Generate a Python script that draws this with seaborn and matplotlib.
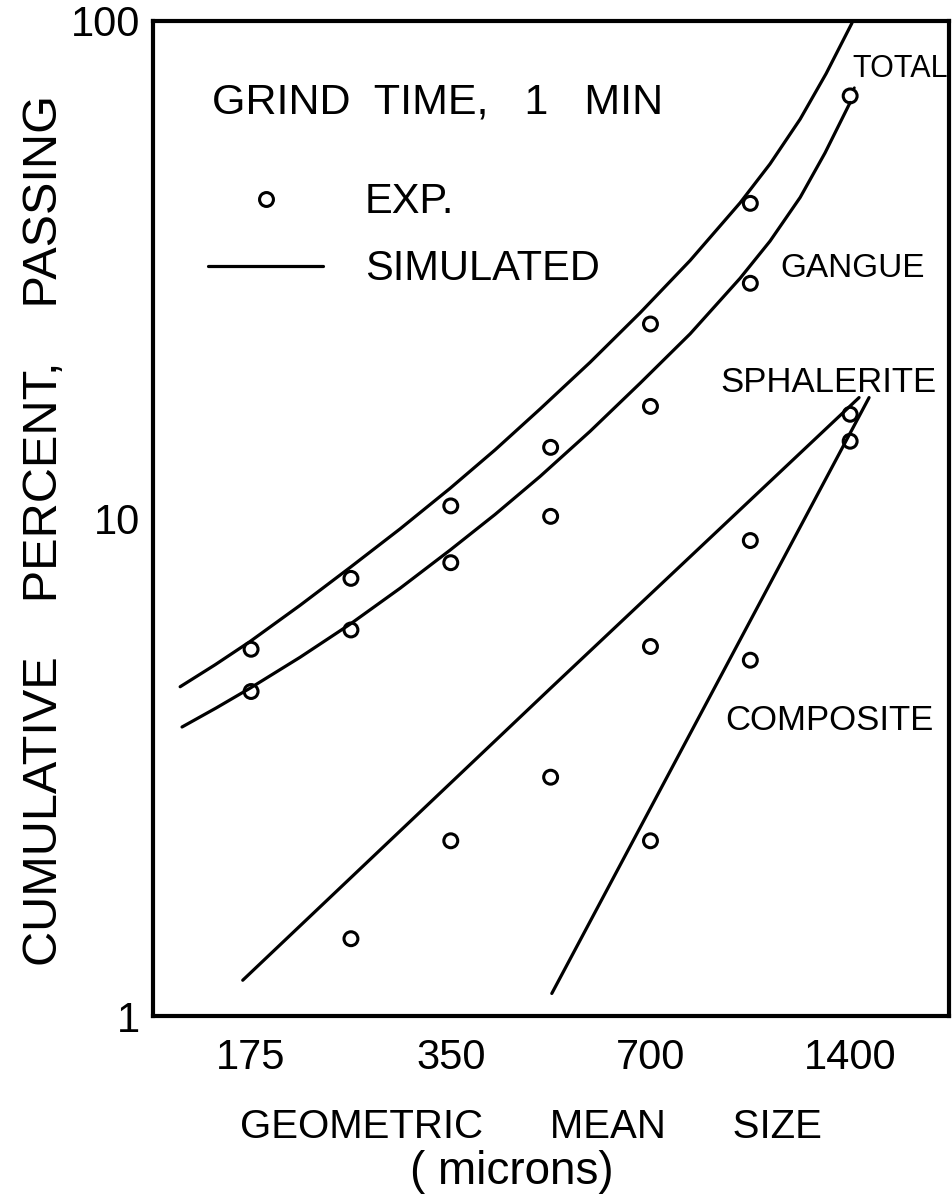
import matplotlib
matplotlib.use("Agg")
import matplotlib.pyplot as plt
from matplotlib.lines import Line2D
from matplotlib.ticker import NullLocator
import seaborn as sns

# Geometric mean sizes of the sieve fractions (microns)
sizes = [175, 247.5, 350, 495, 700, 990, 1400]

# Experimental cumulative percent passing
total_exp = [5.46, 7.58, 10.6, 13.9, 24.6, 43.0, 70.7]
gangue_exp = [4.49, 5.97, 8.15, 10.1, 16.8, 29.7]          # sizes[0:6]
sphalerite_exp = [1.43, 2.25, 3.02, 5.53, 9.03, 16.2]      # sizes[1:7]
composite_exp = [2.25, 5.19, 14.3]                          # sizes[4:7]

# Simulated size distributions
total_sim_size = [136.8, 154.4, 174.4, 207.4, 246.7, 293.5, 349.2, 408.2, 477.2,
                  567.6, 675.2, 803.2, 955.4, 1060, 1177, 1288, 1409]
total_sim = [4.59, 5.08, 5.66, 6.69, 7.97, 9.53, 11.5, 13.74, 16.6,
             20.6, 25.9, 33.0, 43.1, 51.6, 63.5, 78.4, 99.1]
gangue_sim_size = [137.7, 155.0, 174.4, 207.4, 246.7, 293.5, 349.2, 408.2, 477.2,
                   567.6, 675.2, 803.2, 955.4, 1060, 1177, 1283, 1400]
gangue_sim = [3.81, 4.16, 4.56, 5.26, 6.13, 7.24, 8.64, 10.19, 12.15,
              14.97, 18.7, 23.5, 30.4, 36.1, 44.2, 54.3, 68.6]
sphalerite_sim_size = [170, 495, 1444]
sphalerite_sim = [1.18, 4.56, 17.5]
composite_sim_size = [497, 1495]
composite_sim = [1.11, 17.5]

x_ticks = [175, 350, 700, 1400]
x_tick_labels = ["175", "350", "700", "1400"]
y_ticks = [1, 5, 10, 50, 100]
y_tick_labels = ["1", "", "10", "", "100"]

sns.set_theme(style="white")
plt.rcParams["font.family"] = ["Liberation Sans", "DejaVu Sans"]
plt.rcParams["text.color"] = "black"

W, H = 952, 1194
fig = plt.figure(figsize=(W / 100, H / 100), dpi=100)
fig.patch.set_facecolor("white")
ax = fig.add_axes([153 / W, 1 - 1016 / H, 796 / W, 995 / H])
ax.set_facecolor("white")

LW = 2.3
for xs, ys in [(total_sim_size, total_sim), (gangue_sim_size, gangue_sim),
               (sphalerite_sim_size, sphalerite_sim), (composite_sim_size, composite_sim)]:
    sns.lineplot(x=xs, y=ys, ax=ax, color="black", lw=LW, sort=False,
                 estimator=None, solid_capstyle="round", solid_joinstyle="round")

for xs, ys in [(sizes, total_exp), (sizes[:6], gangue_exp),
               (sizes[1:], sphalerite_exp), (sizes[4:], composite_exp)]:
    sns.scatterplot(x=xs, y=ys, ax=ax, marker="o", s=100, facecolors="none",
                    edgecolor="black", linewidth=2.2, zorder=3)

ax.set_xscale("log", base=2)
ax.set_yscale("log")
ax.set_xlim(124.5, 1973)
ax.set_ylim(1, 100)

ax.set_xticks(x_ticks)
ax.set_xticklabels(x_tick_labels)
ax.set_yticks(y_ticks)
ax.set_yticklabels(y_tick_labels)
ax.xaxis.set_minor_locator(NullLocator())
ax.yaxis.set_minor_locator(NullLocator())
ax.tick_params(axis="x", direction="in", length=9, width=2.2, pad=16,
               labelsize=30, colors="black")
ax.tick_params(axis="y", direction="in", length=13, width=2.2, pad=9,
               labelsize=30, colors="black")
for side in ["left", "right", "top", "bottom"]:
    ax.spines[side].set_visible(True)
    ax.spines[side].set_color("black")
    ax.spines[side].set_linewidth(3)
ax.set_xlabel("")
ax.set_ylabel("")

# Title block and legend
ax.text(0.074, 0.9176, "GRIND  TIME,   1   MIN", transform=ax.transAxes,
        ha="left", va="center", fontsize=31)
handles = [Line2D([], [], marker="o", ls="none", mfc="none", mec="black", ms=10, mew=2.2),
           Line2D([], [], color="black", lw=LW)]
ax.legend(handles, ["EXP.", "SIMULATED"], loc="upper left",
          bbox_to_anchor=(0.0691, 0.838), frameon=False, handlelength=2.76,
          handletextpad=1.0, labelspacing=0.65, borderpad=0, borderaxespad=0,
          fontsize=30)

# Curve labels
ax.annotate("TOTAL", xy=(sizes[-1], total_exp[-1]), xytext=(0.878, 0.9513),
            textcoords="axes fraction", ha="left", va="center", fontsize=22,
            arrowprops=dict(arrowstyle="-", lw=2.0, color="black", shrinkA=0,
                            shrinkB=6, relpos=(0.06, 0.1)))
ax.text(0.7877, 0.7513, "GANGUE", transform=ax.transAxes, ha="left",
        va="center", fontsize=24)
ax.text(0.7123, 0.6367, "SPHALERITE", transform=ax.transAxes, ha="left",
        va="center", fontsize=25)
ax.text(0.7186, 0.297, "COMPOSITE", transform=ax.transAxes, ha="left",
        va="center", fontsize=25)

# Axis titles
fig.text(45 / W, 1 - 530 / H, "CUMULATIVE    PERCENT,    PASSING", rotation=90,
         ha="center", va="center", fontsize=35)
fig.text(240 / W, 1 - 1127 / H, "GEOMETRIC      MEAN      SIZE", ha="left",
         va="center", fontsize=29)
fig.text(512 / W, 1 - 1172 / H, "( microns)", ha="center", va="center",
         fontsize=33)

fig.savefig("out.png", dpi=100, facecolor="white")
